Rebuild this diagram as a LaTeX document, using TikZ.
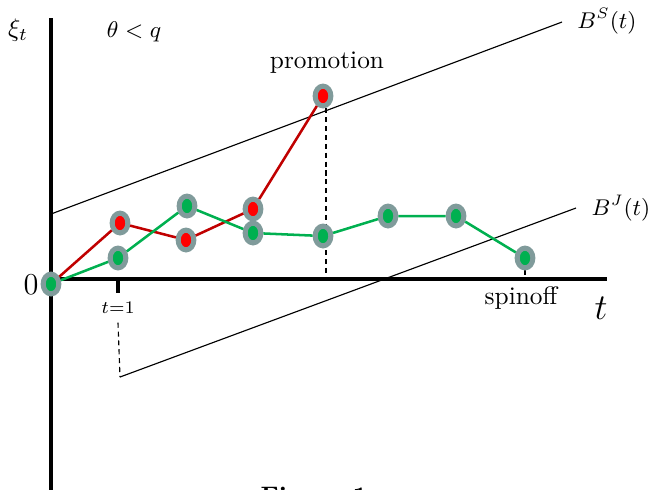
\documentclass[tikz,border=0pt]{standalone}
\usepackage{xcolor}
\usepackage{tikz}
\usetikzlibrary{shapes.geometric, positioning, calc, backgrounds}
\definecolor{PathRed}{RGB}{192, 0, 0}
\definecolor{DotRed}{RGB}{255, 0, 0}
\definecolor{PathGreen}{RGB}{0, 176, 80}
\definecolor{DotRim}{RGB}{128, 155, 155}

\begin{document}
\begin{tikzpicture}[x=0.395pt, y=-0.395pt,
    dot/.style={ellipse, draw=DotRim, line width=2pt, minimum width=6.2pt,
                minimum height=7.8pt, inner sep=0pt},
    gdot/.style={dot, fill=PathGreen},
    rdot/.style={dot, fill=DotRed},
    axisline/.style={line width=1.3pt},
    boundline/.style={line width=0.45pt},
    guide/.style={line width=0.45pt, dash pattern=on 2pt off 1.5pt},
    redpath/.style={PathRed, line width=1pt},
    greenpath/.style={PathGreen, line width=1pt}]
  \useasboundingbox (0,0) rectangle (650,489);

  % axes
  \coordinate (o) at (51,279);
  \coordinate (ytop) at (51,18);
  \coordinate (ybot) at (51,495);
  \coordinate (xend) at (607,279);
  \coordinate (tick) at (118,279);
  \draw[axisline] (ybot) -- (ytop);
  \draw[axisline] (o) -- (xend);
  \draw[axisline] (tick) -- ++(0,14) coordinate (tickend);

  % boundaries
  \coordinate (bs0) at (51,214);
  \coordinate (bs1) at (562,22);
  \coordinate (bj0) at (120,377);
  \coordinate (bj1) at (576,208);
  \draw[boundline] (bs0) -- (bs1);
  \draw[boundline] (bj0) -- (bj1);

  % labels
  \node (xi) at (18,30) {$\xi_t$};
  \node (cond) at (134,32) {\small $\theta<q$};
  \node (zero) at (31,285) {\large $0$};
  \node (tlab) at (601,308) {\Large $t$};
  \node (bslab) at (607,21) {\small $B^S(t)$};
  \node (bjlab) at (621,208) {\small $B^J(t)$};
  \node[below=0pt of tickend, font=\scriptsize] (tone) {$t$=1};
  \draw[guide] (tone.south) -- (bj0);

  % nodes
  \node[gdot] (g0) at (51,284) {};
  \node[rdot] (r1) at (120,223) {};
  \node[rdot] (r2) at (186,240) {};
  \node[rdot] (r3) at (253,209) {};
  \node[rdot] (prom) at (323,96) {};
  \node[gdot] (g1) at (118,258) {};
  \node[gdot] (g2) at (187,206) {};
  \node[gdot] (g3) at (253,233) {};
  \node[gdot] (g4) at (323,236) {};
  \node[gdot] (g5) at (388,216) {};
  \node[gdot] (g6) at (456,216) {};
  \node[gdot] (spin) at (525,258) {};

  % paths
  \draw[redpath] (g0) -- (r1) -- (r2) -- (r3) -- (prom);
  \draw[greenpath] (g0) -- (g1) -- (g2) -- (g3) -- (g4) -- (g5) -- (g6) -- (spin);

  % events
  \begin{scope}[on background layer]
    \draw[guide] ($(prom.south)+(3,0)$) -- ($(prom.south |- o)+(3,0)$);
    \draw[guide] (spin.south) -- (spin.south |- o);
  \end{scope}
  \node (promlab) at (327,63) {promotion};
  \node (spinlab) at (521,298) {spinoff};

  \node[anchor=base, font=\bfseries] (fig) at (314,504) {Figure 1};
\end{tikzpicture}
\end{document}
